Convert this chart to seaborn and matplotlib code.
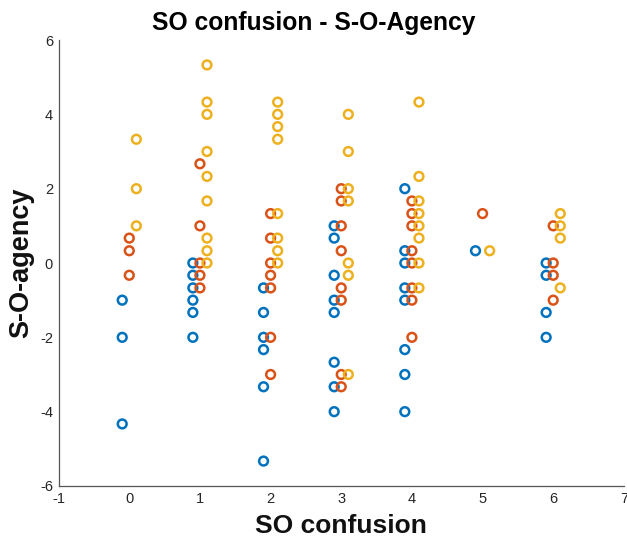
import numpy as np
import pandas as pd
import matplotlib
matplotlib.use("Agg")
import matplotlib.pyplot as plt
import seaborn as sns

# ==========================================
# Datos (valores en tercios)
# ==========================================
so_confusion = [0, 1, 2, 3, 4, 5, 6]

# serie azul
azul = {
    0: [-1, -2, -4.33],
    1: [0, -0.33, -0.67, -1, -1.33, -2],
    2: [-0.67, -1.33, -2, -2.33, -3.33, -5.33],
    3: [1, 0.67, -0.33, -1, -1.33, -2.67, -3.33, -4],
    4: [2, 0.33, 0, -0.67, -1, -2.33, -3, -4],
    5: [0.33],
    6: [0, -0.33, -1.33, -2],
}
# serie naranja
naranja = {
    0: [0.67, 0.33, -0.33],
    1: [2.67, 1, 0, -0.33, -0.67],
    2: [1.33, 0.67, 0, -0.33, -0.67, -2, -3],
    3: [2, 1.67, 1, 0.33, -0.67, -1, -3, -3.33],
    4: [1.67, 1.33, 1, 0.33, 0, -0.67, -1, -2],
    5: [1.33],
    6: [1, 0, -0.33, -1],
}
# serie amarilla
amarilla = {
    0: [3.33, 2, 1],
    1: [5.33, 4.33, 4, 3, 2.33, 1.67, 0.67, 0.33, 0],
    2: [4.33, 4, 3.67, 3.33, 1.33, 0.67, 0.33, 0],
    3: [4, 3, 2, 1.67, 0, -0.33, -3],
    4: [4.33, 2.33, 1.67, 1.33, 1, 0.67, 0, -0.67],
    5: [0.33],
    6: [1.33, 1, 0.67, -0.67],
}

series = ["azul", "naranja", "amarilla"]
colores = {"azul": "#0072BD", "naranja": "#D95319", "amarilla": "#EDB120"}
desplazamiento = {"azul": -0.1, "naranja": 0.0, "amarilla": 0.1}

filas = []
for nombre, datos in zip(series, [azul, naranja, amarilla]):
    for x in so_confusion:
        for y in datos[x]:
            filas.append({"x": x + desplazamiento[nombre], "y": y, "serie": nombre})
df = pd.DataFrame(filas)

# ==========================================
# Gráfico
# ==========================================
sns.set_style("white")
plt.rcParams["font.family"] = ["Liberation Sans", "DejaVu Sans"]
plt.rcParams["axes.unicode_minus"] = False

fig = plt.figure(figsize=(6.27, 5.41), dpi=100)
ax = fig.add_axes([0.0935, 0.1017, 0.9015, 0.8243])

sns.scatterplot(data=df, x="x", y="y", hue="serie", palette=colores,
                hue_order=series, marker="o", s=40, linewidth=1.8,
                legend=False, ax=ax)

# círculos vacíos estilo MATLAB
for coll in ax.collections:
    fc = coll.get_facecolors()
    coll.set_edgecolors(fc)
    coll.set_facecolors("none")

ax.set_xlim(-1, 7)
ax.set_ylim(-6, 6)
ax.set_xticks(range(-1, 8))
ax.set_yticks(range(-6, 7, 2))

gris = "#262626"
for lado in ["top", "right"]:
    ax.spines[lado].set_visible(False)
for lado in ["left", "bottom"]:
    ax.spines[lado].set_color("#555555")
    ax.spines[lado].set_linewidth(0.9)
ax.tick_params(direction="in", length=4, width=0.8, color="#555555",
               labelsize=10.5, labelcolor=gris, pad=4)

fig.text(0.501, 0.98, "SO confusion - S-O-Agency", fontsize=17.7,
         fontweight="bold", ha="center", va="top", color="black")
ax.set_xlabel("SO confusion", fontsize=19, fontweight="bold", labelpad=6,
              color="#111111")
ax.set_ylabel("S-O-agency", fontsize=19.5, fontweight="bold", labelpad=4,
              color="#111111")

fig.savefig("out.png", dpi=100)
